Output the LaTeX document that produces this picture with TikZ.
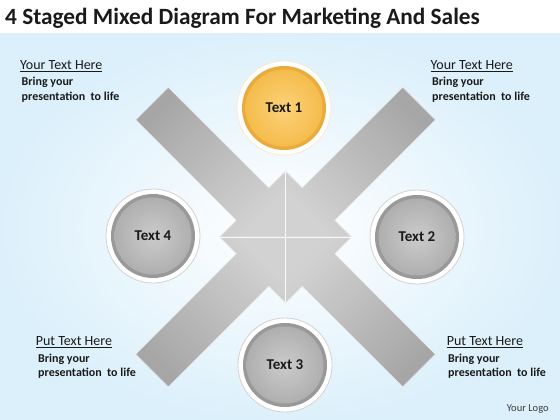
\documentclass[tikz,border=0pt]{standalone}
\usepackage{fontspec}
\setmainfont{Carlito}
\usetikzlibrary{positioning}

\definecolor{bgblue}{HTML}{DCF0FB}
\definecolor{bardark}{HTML}{A6A6A6}
\definecolor{barlight}{HTML}{D2D2D2}
\definecolor{txt}{HTML}{1A1A1A}
\definecolor{goldring}{HTML}{E9AC3C}
\definecolor{goldin}{HTML}{FBD27A}
\definecolor{goldout}{HTML}{F5BC4C}
\definecolor{grayring}{HTML}{999999}
\definecolor{grayin}{HTML}{CBCBCB}
\definecolor{grayout}{HTML}{AFAFAF}

\tikzset{
  bar/.style={top color=bardark,bottom color=barlight,draw=white!85!gray,line width=0.5pt},
  halo/.style={circle,minimum size=94pt,inner sep=0pt,fill=white,draw=#1,line width=0.8pt},
  ring/.style={circle,minimum size=84pt,inner sep=0pt,fill=#1},
  core/.style={circle,minimum size=77pt,inner sep=0pt,text=txt,font=\fontsize{15}{17}\selectfont\bfseries},
  head/.style={anchor=base west,inner sep=0pt,text=txt,font=\fontsize{14}{16}\selectfont},
  body/.style={anchor=base west,inner sep=0pt,text=txt,font=\fontsize{12}{14}\selectfont\bfseries}
}

\begin{document}
\begin{tikzpicture}[x=1pt,y=-1pt]
\useasboundingbox (0,0) rectangle (560,420);
% background
\fill[white] (0,0) rectangle (560,420);
\shade[inner color=white,outer color=bgblue] (0,34) rectangle (560,420);

\node[anchor=base west,inner sep=0pt,text=txt,font=\fontsize{23.3}{26}\selectfont\bfseries] (title) at (5,25) {4 Staged Mixed Diagram For Marketing And Sales};

% the x of four arrow pieces
\begin{scope}[shift={(285.5,237)}]
\foreach \sx/\sy/\a in {-1/-1/45, 1/-1/-45, -1/1/135, 1/1/225}
  \shade[bar,shading angle=\a] (0,0) -- (0,\sy*66) -- (\sx*16.7,\sy*49.3) -- (\sx*117.2,\sy*149.8)
    -- (\sx*149.8,\sy*117.2) -- (\sx*49.3,\sy*16.7) -- (\sx*66,0) -- cycle;
\draw[white!95!gray,line width=1pt] (0,-66) -- (0,66);
\draw[white!95!gray,line width=1pt] (-66,0) -- (66,0);
\end{scope}

% stage circles
\node[halo=white!75!goldring] (h1) at (284,108) {};
\node[ring=goldring] at (h1) {};
\node[core,inner color=goldin,outer color=goldout] (c1) at (h1) {Text 1};

\foreach \n/\p/\t in {2/{417,237}/Text 2, 3/{285,365}/Text 3, 4/{153,236}/Text 4}{
  \node[halo=gray!35] (h\n) at (\p) {};
  \node[ring=grayring] at (h\n) {};
  \node[core,inner color=grayin,outer color=grayout] (c\n) at (h\n) {\t};
}

% corner texts
\node[head] (tlh) at (20,70) {\underline{Your Text Here}};
\node[body] (tlb) at (21.5,86) {Bring your};
\node[body] (tlc) at (21.5,100) {presentation\ \ to life};

\node[head] (trh) at (430.5,70) {\underline{Your Text Here}};
\node[body] (trb) at (432,86) {Bring your};
\node[body] (trc) at (432,100) {presentation\ \ to life};

\node[head] (blh) at (35.7,345.5) {\underline{Put Text Here}};
\node[body] (blb) at (38,362.5) {Bring your};
\node[body] (blc) at (38,376.5) {presentation\ \ to life};

\node[head] (brh) at (446.7,345.5) {\underline{Put Text Here}};
\node[body] (brb) at (448,362.5) {Bring your};
\node[body] (brc) at (448,376.5) {presentation\ \ to life};

\node[anchor=base west,inner sep=0pt,text=txt!85,font=\fontsize{10.5}{12}\selectfont] (logo) at (506.7,411) {Your Logo};
\end{tikzpicture}
\end{document}
